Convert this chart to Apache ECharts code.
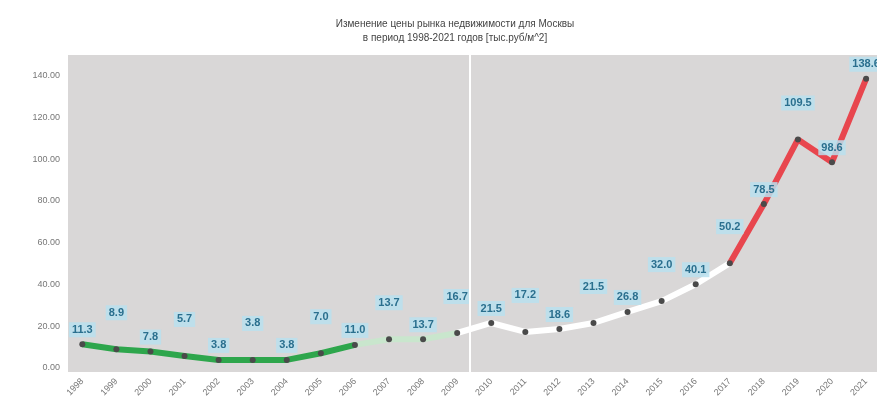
<!DOCTYPE html>
<html>
<head>
<meta charset="utf-8">
<script src="https://cdn.jsdelivr.net/npm/echarts@6/dist/echarts.min.js"></script>
<style>
  html, body { margin: 0; padding: 0; background: #fff; }
  #chart { width: 877px; height: 418px; }
</style>
</head>
<body>
<div id="chart"></div>
<script>
const years = ['1998', '1999', '2000', '2001', '2002', '2003', '2004', '2005', '2006', '2007', '2008', '2009',
  '2010', '2011', '2012', '2013', '2014', '2015', '2016', '2017', '2018', '2019', '2020', '2021']
const prices = [11.3, 8.9, 7.8, 5.7, 3.8, 3.8, 3.8, 7.0, 11.0, 13.7, 13.7, 16.7,
  21.5, 17.2, 18.6, 21.5, 26.8, 32.0, 40.1, 50.2, 78.5, 109.5, 98.6, 138.6]
const yTicks = [0, 20, 40, 60, 80, 100, 120, 140]
const dividerAt = 11.38

// pieces of the line: [from index, to index, colour]
const segments = [
  [0, 8, '#2ea64c'],
  [8, 11, '#c9e6cd'],
  [11, 19, '#ffffff'],
  [19, 23, '#e8464e'],
]

const chart = echarts.init(document.getElementById('chart'))

const segmentSeries = segments.map(([from, to, color]) => ({
  type: 'line',
  data: prices.map((v, i) => [i, v]).slice(from, to + 1),
  symbol: 'none',
  lineStyle: { color: color, width: 6 },
  z: 2,
  silent: true,
}))

// staggered labels: odd points lifted higher, last one kept close
const lift = i => (i % 2 && i < prices.length - 1 ? -22 : 0)

const pointSeries = {
  type: 'line',
  data: prices.map((v, i) => ({
    value: [i, v],
    label: { offset: [0, lift(i)] },
  })),
  symbol: 'circle',
  symbolSize: 6,
  itemStyle: { color: '#4a4a4a' },
  lineStyle: { width: 0 },
  z: 3,
  label: {
    show: true,
    position: 'top',
    distance: 4,
    formatter: p => p.value[1].toFixed(1),
    color: '#2a6f8e',
    fontSize: 11,
    fontWeight: 'bold',
    fontFamily: 'Liberation Sans',
    backgroundColor: 'rgba(185, 224, 239, 0.85)',
    padding: [2, 3],
  },
  markLine: {
    silent: true,
    symbol: 'none',
    label: { show: false },
    lineStyle: { color: '#ffffff', width: 2, type: 'solid' },
    data: [{ xAxis: dividerAt }],
  },
}

chart.setOption({
  animation: false,
  backgroundColor: '#ffffff',
  title: {
    text: 'Изменение цены рынка недвижимости для Москвы\nв период 1998-2021 годов [тыс.руб/м^2]',
    left: 450,
    textAlign: 'center',
    top: 12,
    textStyle: {
      fontSize: 10,
      fontWeight: 'normal',
      color: '#444',
      lineHeight: 14,
      fontFamily: 'Liberation Sans',
    },
  },
  grid: {
    left: 68,
    right: 0,
    top: 55,
    bottom: 46,
    show: true,
    backgroundColor: '#d9d7d7',
    borderWidth: 0,
  },
  xAxis: {
    type: 'value',
    min: -0.42,
    max: 23.32,
    axisLine: { show: false },
    axisTick: { show: false },
    splitLine: { show: false },
    axisLabel: {
      customValues: years.map((y, i) => i),
      formatter: v => years[Math.round(v)],
      rotate: 45,
      color: '#777',
      fontSize: 9,
      margin: 8,
      fontFamily: 'Liberation Sans',
    },
  },
  yAxis: {
    type: 'value',
    min: -2,
    max: 150,
    axisLine: { show: false },
    axisTick: { show: false },
    splitLine: { show: false },
    axisLabel: {
      customValues: yTicks,
      formatter: v => v.toFixed(2),
      color: '#777',
      fontSize: 9,
      margin: 8,
      fontFamily: 'Liberation Sans',
    },
  },
  series: [...segmentSeries, pointSeries],
})
</script>
</body>
</html>
